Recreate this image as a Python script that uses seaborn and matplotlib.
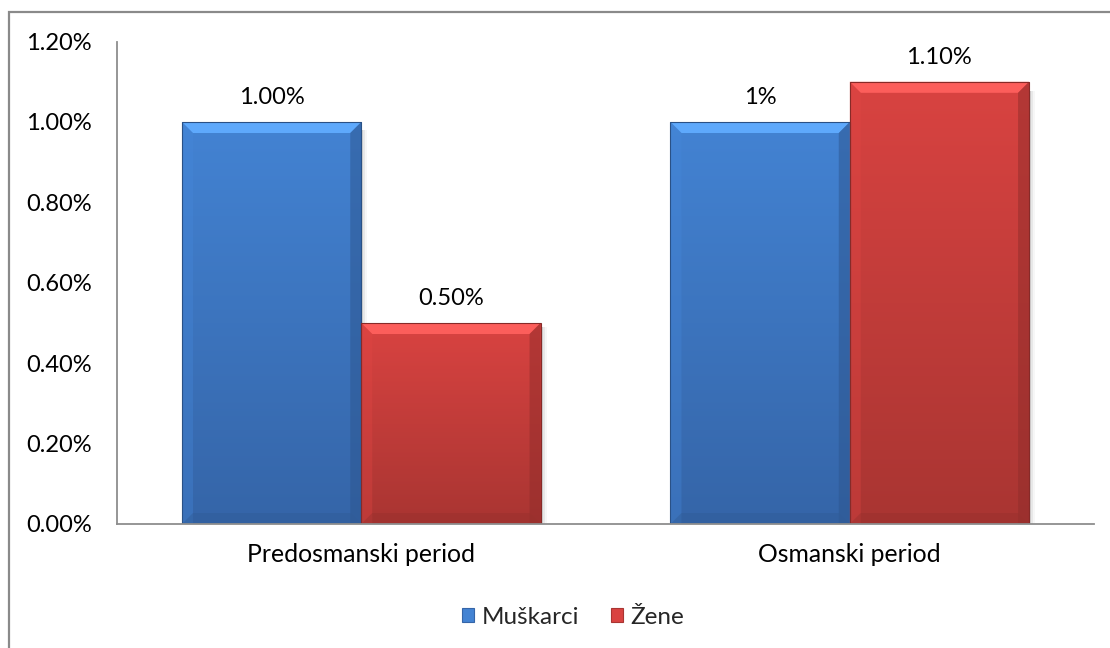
import matplotlib
matplotlib.use("Agg")
import matplotlib.pyplot as plt
import matplotlib.patches as mpatches
from matplotlib.colors import to_rgb, LinearSegmentedColormap
from matplotlib.ticker import FuncFormatter
import numpy as np
import pandas as pd
import seaborn as sns

# Data
periods = ["Predosmanski period", "Osmanski period"]
groups = ["Muškarci", "Žene"]
muskarci = [1.00, 1.00]
zene = [0.50, 1.10]
value_labels = {"Muškarci": ["1.00%", "1%"], "Žene": ["0.50%", "1.10%"]}
y_ticks = [0.0, 0.2, 0.4, 0.6, 0.8, 1.0, 1.2]

df = pd.DataFrame({
    "period": periods * 2,
    "group": [groups[0]] * 2 + [groups[1]] * 2,
    "value": muskarci + zene,
})

base_colors = {"Muškarci": "#4383D3", "Žene": "#D94341"}
dark_colors = {"Muškarci": "#3565A8", "Žene": "#A93532"}

sns.set_theme(style="white")
plt.rcParams["font.family"] = ["Lato", "DejaVu Sans"]

fig = plt.figure(figsize=(11.1, 6.48), dpi=100)
ax = fig.add_axes([117 / 1110, (648 - 524) / 648, (1094 - 117) / 1110, (524 - 41.6) / 648])

sns.barplot(data=df, x="period", y="value", hue="group", hue_order=groups,
            order=periods, palette=base_colors, width=0.734, ax=ax,
            legend=False, saturation=1, linewidth=0, errorbar=None)

ax.set_ylim(0, 1.2)
ax.set_xlim(-0.5, 1.5)
ax.set_yticks(y_ticks)
ax.yaxis.set_major_formatter(FuncFormatter(lambda v, p: f"{v:.2f}%"))
ax.set_xlabel("")
ax.set_ylabel("")
ax.tick_params(axis="both", length=0, labelsize=17, colors="black")
ax.tick_params(axis="y", pad=18)
ax.tick_params(axis="x", pad=14, labelsize=17.8)
for side in ("top", "right"):
    ax.spines[side].set_visible(False)
for side in ("left", "bottom"):
    ax.spines[side].set_color("#8E8E8E")
    ax.spines[side].set_linewidth(1.3)

# Bevelled, shaded bars
px_x = (ax.get_xlim()[1] - ax.get_xlim()[0]) / ax.bbox.width
px_y = (ax.get_ylim()[1] - ax.get_ylim()[0]) / ax.bbox.height
bev = 11
patches = [p for p in ax.patches if p.get_height() > 0]
order_groups = [g for g in groups for _ in periods]
for patch, g in zip(patches, order_groups):
    x0, y0 = patch.get_x(), patch.get_y()
    w, h = patch.get_width(), patch.get_height()
    x1, y1 = x0 + w, y0 + h
    z = patch.get_zorder()
    c_top = np.array(to_rgb(base_colors[g]))
    c_bot = np.array(to_rgb(dark_colors[g]))

    # soft shadow to the right of the bar
    for k, a in enumerate([0.10, 0.06, 0.03]):
        ax.add_patch(mpatches.Rectangle((x1, y0), (k + 1) * 2 * px_x, h * 0.98,
                                        facecolor="black", edgecolor="none",
                                        alpha=a, zorder=z - 0.1))

    cmap = LinearSegmentedColormap.from_list("grad", [c_bot, c_top])
    grad = np.linspace(0, 1, 256).reshape(-1, 1)
    im = ax.imshow(grad, cmap=cmap, aspect="auto", origin="lower",
                   extent=[x0, x1, y0, y1], zorder=z + 0.1)
    im.set_clip_path(patch)
    bx, by = bev * px_x, bev * px_y
    light = np.clip(c_top * 1.2 + 0.06, 0, 1)
    edges = [
        ([(x0, y1), (x1, y1), (x1 - bx, y1 - by), (x0 + bx, y1 - by)], light, 0.95),
        ([(x0, y0), (x0, y1), (x0 + bx, y1 - by), (x0 + bx, y0)], c_top * 1.04, 0.35),
        ([(x1, y0), (x1, y1), (x1 - bx, y1 - by), (x1 - bx, y0)], c_bot * 0.85, 0.5),
        ([(x0, y0), (x1, y0), (x1 - bx, y0 + by), (x0 + bx, y0 + by)], c_bot * 0.9, 0.45),
    ]
    for pts, col, a in edges:
        ax.add_patch(mpatches.Polygon(pts, closed=True, facecolor=np.clip(col, 0, 1),
                                      edgecolor="none", alpha=a, zorder=z + 0.2))
    ax.add_patch(mpatches.Rectangle((x0, y0), w, h, fill=False,
                                    edgecolor=np.clip(c_bot * 0.8, 0, 1),
                                    linewidth=0.8, zorder=z + 0.3))
    patch.set_visible(False)

# Value labels
for patch, g, idx in zip(patches, order_groups, [0, 1, 0, 1]):
    ax.annotate(value_labels[g][idx],
                (patch.get_x() + patch.get_width() / 2, patch.get_height()),
                xytext=(0, 10), textcoords="offset points",
                ha="center", va="bottom", fontsize=17, color="black")

# Legend
handles = [mpatches.Patch(facecolor=base_colors[g], edgecolor=dark_colors[g], linewidth=0.8)
           for g in groups]
fig.legend(handles, groups, loc="center", bbox_to_anchor=(573 / 1110, 1 - 617 / 648),
           ncol=2, frameon=False, fontsize=17.5, handlelength=0.5, handleheight=0.5,
           handletextpad=0.3, columnspacing=1.3)

# Chart area border
fig.patches.append(mpatches.Rectangle((8.5 / 1110, -0.1), 1.2, 1.1 - 12.5 / 648,
                                      transform=fig.transFigure, fill=False,
                                      edgecolor="#8A8A8A", linewidth=1.6))

fig.savefig("out.png", dpi=100, facecolor="white")
